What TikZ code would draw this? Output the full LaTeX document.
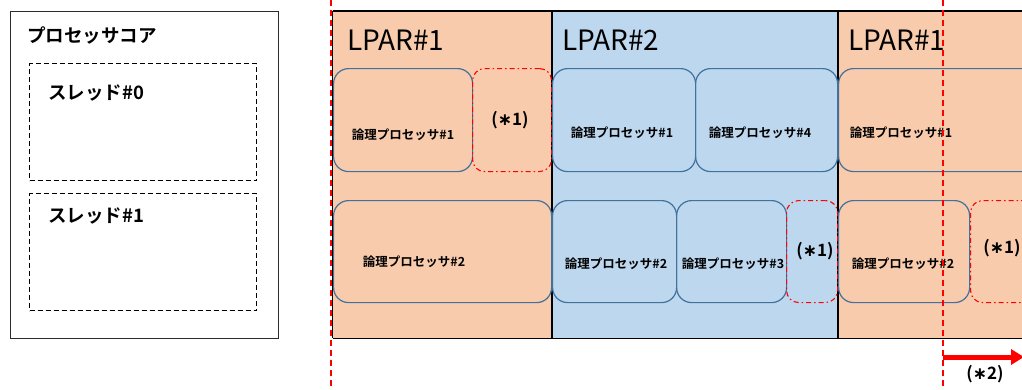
\documentclass[tikz,border=0pt]{standalone}
\usepackage{fontspec}
\setmainfont{Noto Sans CJK JP}[BoldFont={Noto Sans CJK JP Bold}]
\newfontfamily\dvsym{DejaVu Sans}
\newcommand{\mystar}{{\dvsym ∗}}
\usetikzlibrary{arrows.meta}
\definecolor{lparor}{HTML}{F8CBAD}
\definecolor{lparbl}{HTML}{BDD7EE}
\definecolor{lpline}{HTML}{41719C}
\definecolor{frame}{HTML}{2B2B2B}
\definecolor{redmk}{HTML}{FF0000}
\tikzset{
  lpar/.style={draw=none, inner sep=0pt, anchor=north west},
  lpbox/.style={draw=lpline, line width=1.2pt, rounded corners=15pt, inner sep=0pt, anchor=north west},
  freebox/.style={draw=redmk, line width=1.1pt, dash pattern=on 5pt off 3pt on 1.5pt off 3pt, rounded corners=12pt, inner sep=0pt, anchor=north west},
  thrbox/.style={draw=black, line width=1.1pt, dash pattern=on 5pt off 3pt, inner sep=0pt, anchor=north west},
  lptext/.style={font=\fontsize{12.5}{14}\selectfont\bfseries, inner sep=0pt},
  bigtext/.style={font=\fontsize{28}{30}\selectfont, inner sep=0pt, anchor=west},
  jptext/.style={font=\fontsize{18.5}{20}\selectfont\bfseries, inner sep=0pt, anchor=west},
  startext/.style={font=\fontsize{17}{19}\selectfont\bfseries, inner sep=0pt},
  redline/.style={draw=redmk, line width=1.5pt, dash pattern=on 6pt off 4pt},
}
\begin{document}
\begin{tikzpicture}[x=1pt,y=-1pt]
\useasboundingbox (0,0) rectangle (1022,389);
\clip (0,0) rectangle (1022,389);
% processor core
\node[draw=frame, line width=1.3pt, minimum width=268pt, minimum height=327pt, inner sep=0pt, anchor=north west] (core) at (10,11) {};
\node[jptext] (coret) at (27,35) {プロセッサコア};
\node[thrbox, minimum width=227pt, minimum height=117pt] (th0) at (29,63) {};
\node[jptext] (th0t) at (48,93) {スレッド\#0};
\node[thrbox, minimum width=227pt, minimum height=117pt] (th1) at (29,193) {};
\node[jptext] (th1t) at (48,216) {スレッド\#1};
% LPAR backgrounds
\node[lpar, fill=lparor, minimum width=219pt, minimum height=327pt] (L1) at (332.5,11) {};
\node[lpar, fill=lparbl, minimum width=286pt, minimum height=327pt] (L2) at (551.5,11) {};
\node[lpar, fill=lparor, minimum width=200pt, minimum height=327pt] (L3) at (837.5,11) {};
% frame lines
\draw[black, line width=1.4pt] (L1.north west) -- (L3.north east);
\draw[black, line width=1.4pt] (L1.south west) -- (L3.south east);
\draw[black, line width=1.4pt] (L1.north west) -- (L1.south west);
\draw[black, line width=2.6pt] (L1.north east) -- (L1.south east);
\draw[black, line width=1.4pt] (L2.north east) -- (L2.south east);
% titles
\node[bigtext] (L1t) at (347,40) {LPAR\#1};
\node[bigtext] (L2t) at (562,40) {LPAR\#2};
\node[bigtext] (L3t) at (848,40) {LPAR\#1};
% LPAR1 boxes
\node[lpbox, minimum width=139pt, minimum height=103pt] (a1) at (333,68) {};
\node[lptext] (a1t) at (403,135) {論理プロセッサ\#1};
\node[freebox, minimum width=79pt, minimum height=103pt] (af) at (472,68) {};
\node[startext] (aft) at (510,120) {(\mystar1)};
\node[lpbox, minimum width=218pt, minimum height=102pt] (a2) at (333,200) {};
\node[lptext] (a2t) at (414,262) {論理プロセッサ\#2};
% LPAR2 boxes
\node[lpbox, minimum width=143pt, minimum height=103pt] (b1) at (552,68) {};
\node[lptext] (b1t) at (622,133) {論理プロセッサ\#1};
\node[lpbox, minimum width=142pt, minimum height=103pt] (b4) at (695,68) {};
\node[lptext] (b4t) at (760,133) {論理プロセッサ\#4};
\node[lpbox, minimum width=124pt, minimum height=102pt] (b2) at (552,200) {};
\node[lptext] (b2t) at (616,264) {論理プロセッサ\#2};
\node[lpbox, minimum width=110pt, minimum height=102pt] (b3) at (676,200) {};
\node[lptext] (b3t) at (733,264) {論理プロセッサ\#3};
\node[freebox, minimum width=51pt, minimum height=102pt] (bf) at (786,200) {};
\node[startext] (bft) at (815,251) {(\mystar1)};
% LPAR1 (right) boxes
\node[lpbox, minimum width=200pt, minimum height=103pt] (c1) at (838,68) {};
\node[lptext] (c1t) at (901,133) {論理プロセッサ\#1};
\node[lpbox, minimum width=131pt, minimum height=102pt] (c2) at (838,200) {};
\node[lptext] (c2t) at (903,264) {論理プロセッサ\#2};
\node[freebox, minimum width=80pt, minimum height=102pt] (cf) at (970,200) {};
\node[startext] (cft) at (1002,248) {(\mystar1)};
% red dashed time lines
\coordinate (t1) at (331,0);
\coordinate (u1) at (331,389);
\coordinate (t2) at (943,0);
\coordinate (u2) at (943,389);
\draw[redline] (t1) -- (u1);
\draw[redline] (t2) -- (u2);
% arrow
\coordinate (ar0) at (943,357);
\coordinate (ar1) at (1024,357);
\draw[draw=redmk, line width=5pt, -{Triangle[length=13pt,width=15pt]}] (ar0) -- (ar1);
\node[startext] (s2) at (985,374) {(\mystar2)};
\end{tikzpicture}
\end{document}
